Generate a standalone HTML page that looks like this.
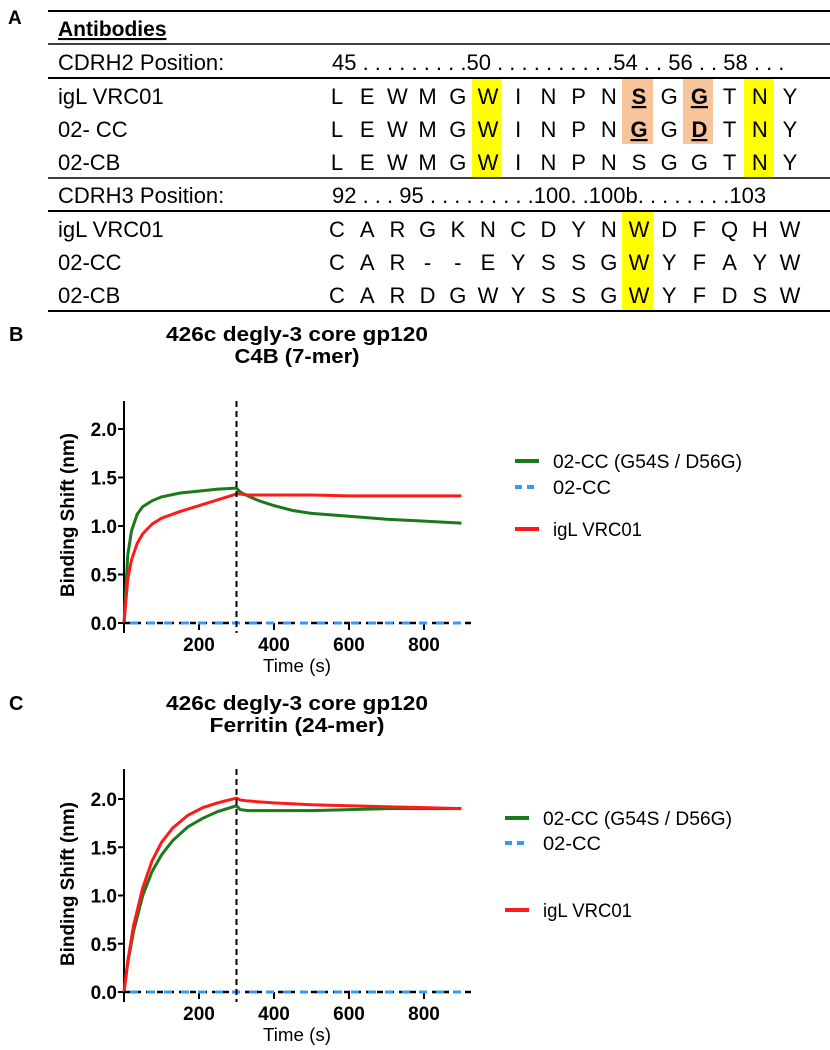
<!DOCTYPE html>
<html><head><meta charset="utf-8">
<style>
body{margin:0;background:#fff;width:830px;height:1050px;overflow:hidden;font-family:"Liberation Sans",sans-serif}
svg{position:absolute;left:0;top:0}
</style></head>
<body>
<svg width="830" height="1050" viewBox="0 0 830 1050" id="fig">
<g font-family="Liberation Sans, sans-serif">
<text x="8" y="24" font-size="19" font-weight="bold">A</text>
<line x1="48" y1="11" x2="830" y2="11" stroke="#000" stroke-width="2"/>
<line x1="48" y1="44" x2="830" y2="44" stroke="#000" stroke-width="1.5"/>
<line x1="48" y1="78" x2="830" y2="78" stroke="#000" stroke-width="2"/>
<line x1="48" y1="178" x2="830" y2="178" stroke="#000" stroke-width="1.5"/>
<line x1="48" y1="211" x2="830" y2="211" stroke="#000" stroke-width="2"/>
<line x1="48" y1="311" x2="830" y2="311" stroke="#000" stroke-width="2"/>
<rect x="472" y="79" width="29" height="98" fill="#ffff00"/>
<rect x="744" y="79" width="29" height="98" fill="#ffff00"/>
<rect x="622" y="79" width="31" height="65" fill="#f8c49a"/>
<rect x="683" y="79" width="30" height="65" fill="#f8c49a"/>
<rect x="622" y="212" width="31" height="98" fill="#ffff00"/>
<text x="58" y="36" font-size="21" font-weight="bold" text-decoration="underline">Antibodies</text>
<text x="58" y="70" font-size="22">CDRH2 Position:</text>
<text x="332" y="70" font-size="22">45 . . . . . . . . .50 . . . . . . . . . .54 . . 56 . . 58 . . .</text>
<text x="58" y="203" font-size="22">CDRH3 Position:</text>
<text x="332" y="203" font-size="22">92 . . . 95 . . . . . . . . .100. .100b. . . . . . . .103</text>
<g id="seqs" font-size="22" text-anchor="middle"></g>
</g>
<g id="chartB"></g>
<g id="chartC"></g>
</svg>
<script>
const rowNames=["igL VRC01","02- CC","02-CB","igL VRC01","02-CC","02-CB"];
const rowSeqs=["LEWMGWINPNSGGTNY","LEWMGWINPNGGDTNY","LEWMGWINPNSGGTNY","CARGKNCDYNWDFQHW","CAR--EYSSGWYFAYW","CARDGWYSSGWYFDSW"];
const rowY=[104,137,170,237,270,303];
const boldCells=[[0,10],[0,12],[1,10],[1,12]];
const seqG=document.getElementById('seqs');
const NS='http://www.w3.org/2000/svg';
function mk(tag,attrs,parent){const e=document.createElementNS(NS,tag);for(const k in attrs)e.setAttribute(k,attrs[k]);parent.appendChild(e);return e;}
rowNames.forEach((n,r)=>{
  const t=mk('text',{x:58,y:rowY[r],'text-anchor':'start'},seqG);t.textContent=n;
  
  
  [...rowSeqs[r]].forEach((c,i)=>{
    const b=boldCells.some(p=>p[0]===r&&p[1]===i);
    const e=mk('text',{x:337+30.2*i,y:rowY[r]},seqG);
    if(b){e.setAttribute('font-weight','bold');e.setAttribute('text-decoration','underline');}
    e.textContent=c;
    
    
  });
});

// chart data
const timesB=[0,10,20,35,50,75,100,150,200,250,300,310,330,360,400,450,500,600,700,800,900];
const greenB=[0,0.7,0.95,1.12,1.2,1.26,1.3,1.34,1.36,1.38,1.39,1.35,1.31,1.26,1.21,1.16,1.13,1.1,1.07,1.05,1.03];
const redB=[0,0.45,0.65,0.82,0.92,1.02,1.08,1.15,1.21,1.27,1.33,1.33,1.32,1.32,1.32,1.32,1.32,1.31,1.31,1.31,1.31];
const blueB=[0,0,0,0,0,0,0,0,0,0,0,0,0,0,0,0,0,0,0,0,0];
const timesC=[0,10,25,50,75,100,130,170,210,250,300,310,330,360,400,500,600,700,800,900];
const greenC=[0,0.3,0.62,1.0,1.25,1.42,1.57,1.71,1.8,1.87,1.93,1.89,1.88,1.88,1.88,1.88,1.89,1.9,1.9,1.9];
const redC=[0,0.32,0.68,1.08,1.36,1.55,1.7,1.83,1.91,1.96,2.01,1.99,1.98,1.97,1.96,1.94,1.93,1.92,1.91,1.9];
const blueC=[0,0,0,0,0,0,0,0,0,0,0,0,0,0,0,0,0,0,0,0];
const yTicks=[0,0.5,1.0,1.5,2.0];
const xTicks=[200,400,600,800];

function chart(gid,y0,pxPerUnit,top,title2,t2w,times,g,r,b,legX,legYs){
  const G=document.getElementById(gid);
  const X=t=>124+t*0.375, Y=v=>y0-v*pxPerUnit;
  const t1=mk('text',{x:297,y:Y(0)-282,'text-anchor':'middle','font-size':20,'font-weight':'bold',textLength:262,lengthAdjust:'spacingAndGlyphs'},G);t1.textContent='426c degly-3 core gp120';
  
  
  const t2=mk('text',{x:297,y:Y(0)-260,'text-anchor':'middle','font-size':20,'font-weight':'bold',textLength:t2w,lengthAdjust:'spacingAndGlyphs'},G);t2.textContent=title2;
  
  
  const pl=mk('text',{x:9,y:Y(0)-282,'font-size':20,'font-weight':'bold'},G);pl.textContent=gid==='chartB'?'B':'C';
  
  
  const ya=mk('line',{x1:124,y1:top,x2:124,y2:Y(0)+10,stroke:'#000','stroke-width':2},G);
  
  
  yTicks.forEach(v=>{
    mk('line',{x1:118,y1:Y(v),x2:124,y2:Y(v),stroke:'#000','stroke-width':2},G);
    const t=mk('text',{x:117,y:Y(v)+7,'text-anchor':'end','font-size':19,'font-weight':'bold'},G);t.textContent=v.toFixed(1);
    
    
  });
  xTicks.forEach(v=>{
    mk('line',{x1:X(v),y1:Y(0),x2:X(v),y2:Y(0)+7,stroke:'#000','stroke-width':2},G);
    const t=mk('text',{x:X(v),y:Y(0)+28,'text-anchor':'middle','font-size':19,'font-weight':'bold'},G);t.textContent=v;
    
    
  });
  const yt=mk('text',{transform:`translate(74,${Y(0)-108}) rotate(-90)`,'text-anchor':'middle','font-size':19,'font-weight':'bold',textLength:164,lengthAdjust:'spacingAndGlyphs'},G);yt.textContent='Binding Shift (nm)';
  
  
  const xt=mk('text',{x:297,y:Y(0)+49,'text-anchor':'middle','font-size':18,textLength:68,lengthAdjust:'spacingAndGlyphs'},G);xt.textContent='Time (s)';
  
  
  const pts=arr=>times.map((t,i)=>X(t)+','+Y(arr[i])).join(' ');
  const gl=mk('polyline',{points:pts(g),fill:'none',stroke:'#1a7a1a','stroke-width':3},G);
  
  
  const rl=mk('polyline',{points:pts(r),fill:'none',stroke:'#ff1a1a','stroke-width':3},G);
  
  
  const xa=mk('line',{x1:124,y1:Y(0),x2:472,y2:Y(0),stroke:'#000','stroke-width':2.5,'stroke-dasharray':'6 5'},G);
  
  
  const bl=mk('polyline',{points:pts(b),fill:'none',stroke:'#3399ff','stroke-width':3,'stroke-dasharray':'8 9','stroke-dashoffset':'-6'},G);
  
  
  const vl=mk('line',{x1:X(300),y1:top,x2:X(300),y2:Y(0)+10,stroke:'#000','stroke-width':2,'stroke-dasharray':'6 4'},G);
  
  
  const leg=[['02-CC (G54S / D56G)','#1a7a1a',null,189],['02-CC','#3399ff','7 5',58],['igL VRC01','#ff1a1a',null,89]];
  leg.forEach((l,i)=>{
    const a={x1:legX,y1:legYs[i],x2:legX+24,y2:legYs[i],stroke:l[1],'stroke-width':4};
    if(l[2])a['stroke-dasharray']=l[2];
    mk('line',a,G);
    const t=mk('text',{x:legX+38,y:legYs[i]+7,'font-size':19,textLength:l[3],lengthAdjust:'spacingAndGlyphs'},G);t.textContent=l[0];
    
    
  });
}
chart('chartB',623,97,401,'C4B (7-mer)',125,timesB,greenB,redB,blueB,515,[461,487,529]);
chart('chartC',992,96.5,769,'Ferritin (24-mer)',175,timesC,greenC,redC,blueC,505,[818,843,910]);
</script>
</body></html>
